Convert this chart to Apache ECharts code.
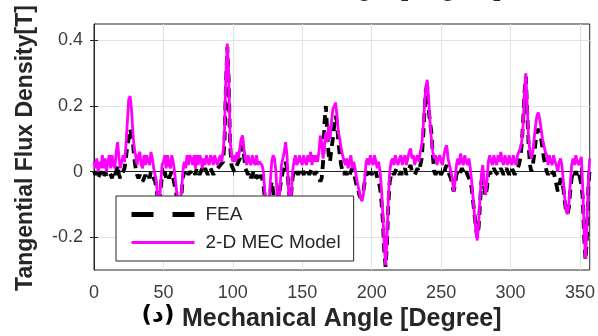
<!DOCTYPE html>
<html>
<head>
<meta charset="utf-8">
<script src="https://cdn.jsdelivr.net/npm/echarts@6/dist/echarts.min.js"></script>
<style>html,body{margin:0;padding:0;background:#fff;}#c{width:598px;height:336px;}</style>
</head>
<body>
<div id="c"></div>
<script>
// Tangential flux density [T], one value per mechanical degree (0..357)
const seriesNames = ['FEA', '2-D MEC Model'];
const xTicks = [0, 50, 100, 150, 200, 250, 300, 350];
const yTicks = [-0.2, 0, 0.2, 0.4];

const feaValues = [
  0.0,-0.01,0.0,-0.02,-0.01,0.0,-0.01,-0.02,0.0,-0.01,
  -0.01,0.0,-0.01,-0.02,0.0,-0.01,0.0,0.02,-0.01,-0.02,
  -0.01,0.0,0.01,0.04,0.08,0.1,0.13,0.13,0.09,0.04,
  0.01,-0.01,-0.02,-0.01,-0.02,-0.03,-0.02,-0.01,-0.02,-0.01,
  -0.02,0.0,-0.01,-0.02,-0.03,-0.05,-0.09,-0.1,-0.05,-0.01,
  -0.01,0.0,-0.02,-0.01,-0.02,-0.01,0.0,-0.02,-0.04,-0.06,
  -0.09,-0.11,-0.1,-0.07,-0.02,0.0,-0.01,0.0,-0.01,0.0,
  0.0,-0.01,0.0,-0.01,0.01,0.0,-0.01,0.0,0.01,0.0,
  0.01,0.0,-0.01,0.0,0.01,0.0,-0.01,0.0,0.0,0.01,
  0.01,0.02,0.02,0.03,0.09,0.26,0.38,0.28,0.08,0.02,
  0.01,0.0,0.01,0.02,0.02,0.04,0.07,0.08,0.05,0.01,
  0.0,-0.01,0.0,-0.02,-0.01,0.0,-0.02,-0.01,-0.02,-0.03,
  -0.01,-0.02,-0.04,-0.08,-0.11,-0.12,-0.1,-0.06,-0.03,-0.06,
  -0.1,-0.12,-0.1,-0.08,-0.05,-0.02,0.0,0.01,0.03,0.01,
  -0.04,-0.09,-0.07,-0.02,0.0,-0.01,0.0,-0.01,0.0,-0.01,
  0.0,-0.01,0.0,0.01,0.0,-0.01,0.0,0.01,0.0,-0.01,
  0.0,-0.01,-0.02,-0.03,-0.02,0.03,0.15,0.2,0.12,0.05,
  0.03,0.07,0.1,0.14,0.17,0.15,0.09,0.05,0.02,0.0,
  -0.01,0.0,-0.01,0.0,-0.01,0.0,0.01,0.0,-0.02,-0.04,
  -0.05,-0.07,-0.08,-0.08,-0.06,-0.03,0.0,-0.01,-0.02,0.0,
  -0.01,0.0,-0.01,0.0,-0.02,-0.03,-0.05,-0.09,-0.15,-0.24,
  -0.29,-0.22,-0.1,-0.03,-0.01,0.0,-0.01,0.0,0.01,0.0,
  -0.01,0.0,-0.01,0.0,0.01,-0.01,0.0,0.01,0.02,0.0,
  0.0,-0.01,0.0,0.01,0.0,0.02,0.04,0.1,0.18,0.25,
  0.26,0.19,0.15,0.12,0.05,0.0,-0.01,0.0,-0.01,0.0,
  -0.01,0.0,-0.01,0.01,0.02,0.0,-0.01,-0.02,-0.04,-0.06,
  -0.04,-0.01,0.0,-0.01,0.0,0.01,0.0,-0.01,0.0,-0.01,
  -0.01,-0.03,-0.05,-0.09,-0.13,-0.17,-0.2,-0.17,-0.1,-0.03,
  -0.02,-0.05,-0.075,-0.05,-0.01,0.0,-0.01,0.0,0.01,0.0,
  0.0,-0.01,0.0,0.01,0.0,-0.01,0.0,0.01,0.0,-0.01,
  0.0,0.01,0.0,-0.01,0.0,0.01,0.02,0.04,0.08,0.15,
  0.24,0.29,0.18,0.08,0.02,0.0,0.02,0.05,0.09,0.12,
  0.13,0.12,0.1,0.07,0.04,0.02,0.0,-0.01,0.0,-0.01,
  -0.01,0.0,-0.02,-0.04,-0.06,-0.05,-0.02,-0.03,-0.05,-0.09,
  -0.12,-0.13,-0.11,-0.06,-0.02,0.0,-0.01,0.0,-0.01,0.0,
  -0.02,-0.04,-0.08,-0.2,-0.27,-0.2,-0.05,0.01
];

const mecValues = [
  0.03,0.01,0.04,0.0,0.03,0.01,0.05,0.01,0.04,0.0,
  0.03,0.05,0.01,0.05,0.02,0.01,0.06,0.09,0.04,0.01,
  0.03,0.05,0.03,0.08,0.15,0.22,0.23,0.19,0.12,0.07,
  0.05,0.02,0.05,0.06,0.02,0.01,0.05,0.02,0.05,0.03,
  0.02,0.06,0.04,0.01,0.01,-0.03,-0.09,-0.1,-0.04,0.02,
  0.03,0.05,0.01,0.05,0.02,0.01,0.05,0.03,0.0,-0.04,
  -0.08,-0.11,-0.1,-0.06,0.0,0.03,0.01,0.05,0.02,0.05,
  0.04,0.02,0.05,0.01,0.05,0.02,0.05,0.04,0.01,0.04,
  0.02,0.05,0.03,0.02,0.05,0.04,0.02,0.05,0.03,0.02,
  0.04,0.05,0.03,0.06,0.12,0.3,0.39,0.3,0.1,0.05,
  0.03,0.05,0.03,0.06,0.04,0.07,0.1,0.11,0.07,0.04,
  0.02,0.05,0.03,0.02,0.05,0.03,0.02,0.05,0.02,0.03,
  0.03,0.02,0.0,-0.06,-0.11,-0.12,-0.1,-0.03,0.03,0.05,
  0.04,0.0,-0.08,-0.1,-0.05,0.02,0.04,0.06,0.09,0.05,
  -0.05,-0.1,-0.08,0.0,0.03,0.05,0.02,0.03,0.05,0.03,
  0.02,0.05,0.03,0.02,0.05,0.03,0.06,0.02,0.05,0.03,
  0.05,0.03,0.06,0.11,0.09,0.04,0.08,0.12,0.09,0.14,
  0.1,0.15,0.19,0.2,0.21,0.17,0.12,0.1,0.07,0.05,
  0.05,0.02,0.04,0.01,0.03,0.05,0.01,0.03,0.01,-0.02,
  -0.04,-0.06,-0.08,-0.09,-0.07,-0.02,0.03,0.04,0.02,0.05,
  0.03,0.02,0.05,0.03,0.01,0.03,0.0,-0.05,-0.13,-0.22,
  -0.285,-0.2,-0.08,0.0,0.03,0.04,0.02,0.05,0.03,0.02,
  0.04,0.05,0.02,0.04,0.05,0.02,0.04,0.06,0.07,0.04,
  0.05,0.02,0.04,0.05,0.03,0.06,0.08,0.13,0.2,0.26,
  0.28,0.22,0.15,0.1,0.06,0.04,0.05,0.02,0.04,0.05,
  0.03,0.02,0.05,0.07,0.08,0.04,0.02,0.02,-0.02,-0.06,
  -0.03,0.02,0.04,0.02,0.055,0.03,0.02,0.05,0.03,0.02,
  0.04,0.01,-0.03,-0.08,-0.13,-0.18,-0.21,-0.16,-0.08,-0.01,
  0.02,-0.03,-0.07,-0.03,0.03,0.05,0.03,0.02,0.05,0.03,
  0.02,0.05,0.03,0.06,0.03,0.02,0.05,0.03,0.02,0.05,
  0.03,0.02,0.05,0.03,0.02,0.05,0.06,0.07,0.09,0.14,
  0.24,0.3,0.2,0.1,0.06,0.04,0.06,0.1,0.14,0.17,
  0.18,0.16,0.13,0.1,0.08,0.06,0.05,0.02,0.05,0.03,
  0.02,0.05,0.03,0.02,0.0,0.03,0.04,0.02,-0.03,-0.08,
  -0.12,-0.13,-0.1,-0.04,0.02,0.04,0.02,0.05,0.03,0.02,
  0.02,0.045,-0.05,-0.18,-0.265,-0.17,-0.03,0.04
];

const chart = echarts.init(document.getElementById('c'), null, {renderer: 'canvas'});
const toPairs = arr => arr.map((v, i) => [i, v]);
const fontFam = '"Liberation Sans", Arial, sans-serif';
const tickColor = '#3c3c3c';
const frame = '#262626';
const gridCol = '#e2e2e2';

const option = {
  animation: false,
  backgroundColor: '#ffffff',
  grid: {left: 94, right: 7, top: 24, bottom: 66, show: true, borderColor: frame, borderWidth: 1, backgroundColor: '#fff'},
  xAxis: [{
    type: 'value', min: 0, max: 357, interval: 50,
    axisLine: {show: true, lineStyle: {color: frame}},
    axisTick: {show: true, inside: true, length: 4, lineStyle: {color: frame}, customValues: xTicks},
    axisLabel: {show: true, margin: 14, fontSize: 18, color: tickColor, fontFamily: fontFam,
      customValues: xTicks},
    splitLine: {show: true, lineStyle: {color: gridCol, width: 1}}
  }, {
    type: 'value', min: 0, max: 357, interval: 50, position: 'top',
    axisLine: {show: false},
    axisTick: {show: true, inside: true, length: 4, lineStyle: {color: frame}, customValues: xTicks},
    axisLabel: {show: false},
    splitLine: {show: false}
  }],
  yAxis: [{
    type: 'value', min: -0.3, max: 0.45,
    axisLine: {show: true, lineStyle: {color: frame}},
    axisTick: {show: true, inside: true, length: 4, lineStyle: {color: frame}, customValues: yTicks},
    axisLabel: {show: true, margin: 11, fontSize: 18, color: tickColor, fontFamily: fontFam, customValues: yTicks,
      formatter: v => (Math.abs(v) < 1e-9 ? '0' : String(Math.round(v * 10) / 10))},
    splitLine: {show: false}
  }, {
    type: 'value', min: -0.3, max: 0.45, position: 'right',
    axisLine: {show: false},
    axisTick: {show: true, inside: true, length: 4, lineStyle: {color: frame}, customValues: yTicks},
    axisLabel: {show: false},
    splitLine: {show: false}
  }],
  legend: {
    orient: 'vertical', left: 116, top: 196, z: 20,
    backgroundColor: '#ffffff', borderColor: frame, borderWidth: 1,
    padding: [9, 13, 9, 13], itemWidth: 63, itemHeight: 14, itemGap: 9,
    textStyle: {fontSize: 19, color: frame, fontFamily: fontFam, padding: [0, 0, 0, 6]},
    data: [
      {name: seriesNames[0], itemStyle: {opacity: 0}, lineStyle: {type: [22, 19], width: 5, color: '#000'}},
      {name: seriesNames[1], itemStyle: {opacity: 0}, lineStyle: {width: 3, color: '#ff00ff'}}
    ]
  },
  series: [{
    type: 'line', name: 'grid', data: [], z: 0, silent: true,
    markLine: {
      silent: true, z: 0, symbol: ['none', 'none'], label: {show: false},
      lineStyle: {color: gridCol, type: 'solid', width: 1},
      data: yTicks.map(v => ({yAxis: v}))
    }
  }, {
    type: 'line', name: seriesNames[0], data: toPairs(feaValues),
    showSymbol: false, symbol: 'none', z: 2,
    lineStyle: {color: '#000000', width: 3.8, type: [9, 6]},
    itemStyle: {color: '#000000'}
  }, {
    type: 'line', name: seriesNames[1], data: toPairs(mecValues),
    showSymbol: false, symbol: 'none', z: 3,
    lineStyle: {color: '#ff00ff', width: 2.8},
    itemStyle: {color: '#ff00ff'}
  }],
  graphic: [
    {type: 'text', x: 26, y: 148, rotation: Math.PI / 2,
      style: {text: 'Tangential Flux Density[T]', font: 'bold 23px ' + fontFam, fill: frame, align: 'center', verticalAlign: 'middle'}},
    {type: 'text', x: 182, y: 319.5,
      style: {text: 'Mechanical Angle [Degree]', font: 'bold 25px ' + fontFam, fill: frame, align: 'left', verticalAlign: 'middle'}},
    {type: 'text', x: 158, y: 316,
      style: {text: '(د)', font: 'bold 23px "DejaVu Sans"', fill: '#000', align: 'center', verticalAlign: 'middle'}},
    {type: 'text', x: 182, y: -10.5,
      style: {text: 'Mechanical Angle [Degree]', font: 'bold 25px ' + fontFam, fill: frame, align: 'left', verticalAlign: 'middle'}},
    {type: 'text', x: 158, y: -14,
      style: {text: '(ب)', font: 'bold 23px "DejaVu Sans"', fill: '#000', align: 'center', verticalAlign: 'middle'}}
  ]
};
chart.setOption(option);
</script>
</body>
</html>
